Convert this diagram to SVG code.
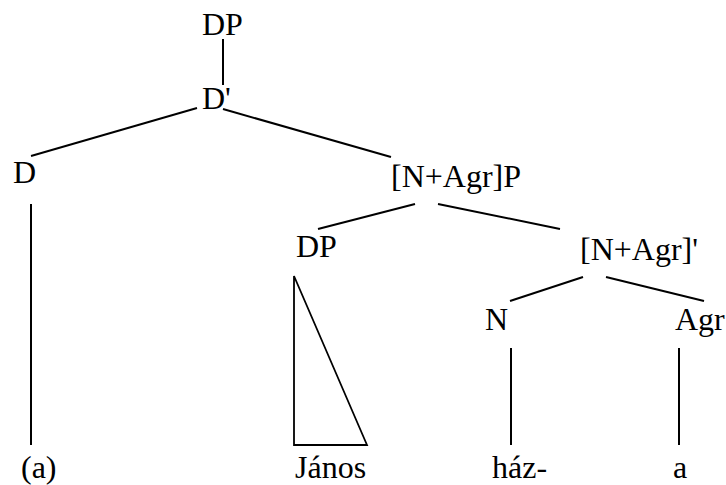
<svg xmlns="http://www.w3.org/2000/svg" width="726" height="485" viewBox="0 0 726 485">
<style>
.lbl { font-family: 'Liberation Serif', 'Times New Roman', Times, serif; font-size: 32px; fill: #000; }
.edge { stroke: #000; stroke-width: 2; fill: none; stroke-linecap: butt; }
.tri { stroke: #000; stroke-width: 1.8; fill: none; stroke-linejoin: miter; }
</style>
<rect width="726" height="485" fill="#fff"/>
<g id="connectors">
<line class="edge" x1="223" y1="39" x2="223" y2="85"/>
<line class="edge" x1="197" y1="108" x2="31" y2="156"/>
<line class="edge" x1="223" y1="109" x2="391" y2="157"/>
<line class="edge" x1="415" y1="204" x2="318" y2="229"/>
<line class="edge" x1="438" y1="204" x2="560" y2="229"/>
<line class="edge" x1="583" y1="277" x2="510" y2="301"/>
<line class="edge" x1="606" y1="277" x2="704" y2="301"/>
<line class="edge" x1="31" y1="204" x2="31" y2="445"/>
<line class="edge" x1="511" y1="348" x2="511" y2="445"/>
<line class="edge" x1="679" y1="348" x2="679" y2="445"/>
<polygon class="tri" points="294,276 294,445 367,445"/>
</g>
<g id="node-DP-top"><text class="lbl" x="202" y="35">DP</text></g>
<g id="node-Dbar"><text class="lbl" x="202" y="109">D'</text></g>
<g id="node-D"><text class="lbl" x="13" y="183">D</text></g>
<g id="node-NAgrP"><text class="lbl" x="391" y="187">[N+Agr]P</text></g>
<g id="node-DP-low"><text class="lbl" x="296" y="257">DP</text></g>
<g id="node-NAgrbar"><text class="lbl" x="580" y="260">[N+Agr]'</text></g>
<g id="node-N"><text class="lbl" x="485" y="330">N</text></g>
<g id="node-Agr"><text class="lbl" x="675" y="330">Agr</text></g>
<g id="leaf-a-paren"><text class="lbl" x="21" y="478">(a)</text></g>
<g id="leaf-Janos"><text class="lbl" x="295" y="478">János</text></g>
<g id="leaf-haz"><text class="lbl" x="492" y="478">ház-</text></g>
<g id="leaf-a"><text class="lbl" x="673" y="478">a</text></g>
</svg>
